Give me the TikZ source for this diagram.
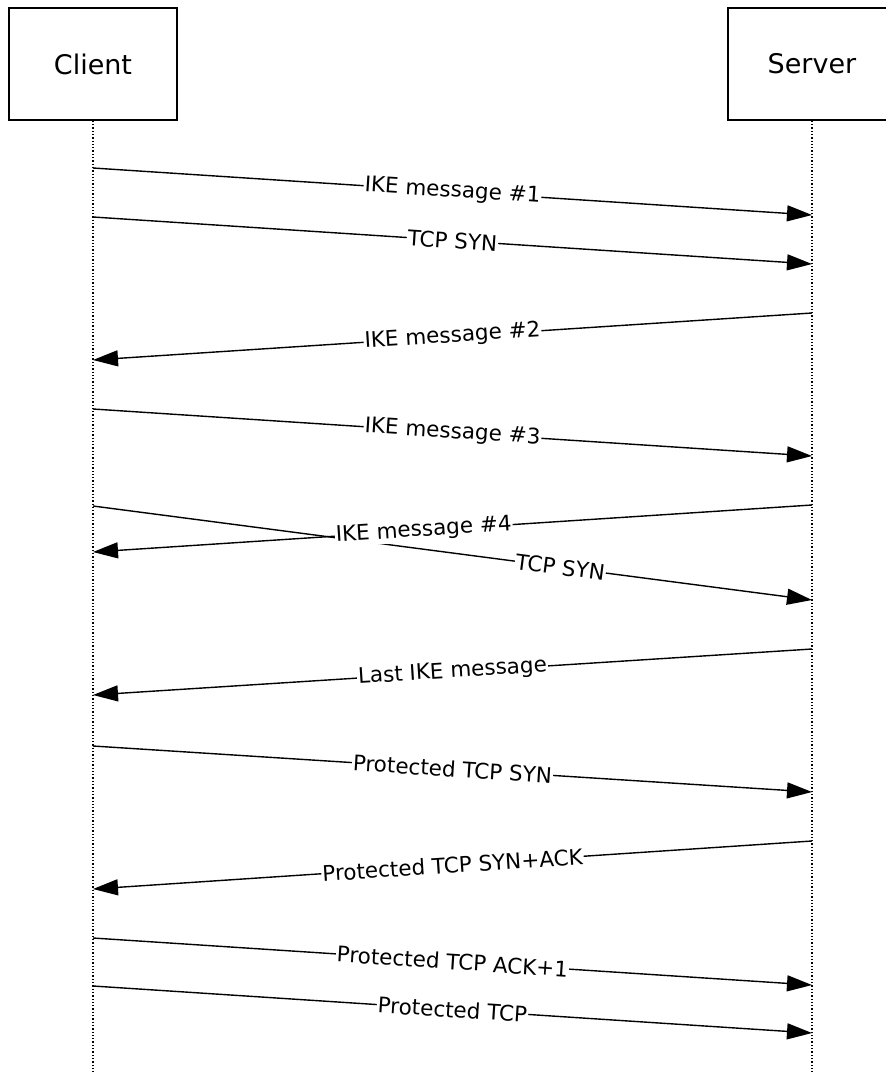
\documentclass[tikz,border=0pt]{standalone}
\usepackage{fontspec}
\setmainfont{DejaVu Sans}
\usetikzlibrary{arrows.meta}

\begin{document}
\begin{tikzpicture}[x=1pt,y=-1pt,
  actor/.style={draw,line width=1.4pt,minimum width=168pt,minimum height=112pt,
    font=\fontsize{27}{32}\selectfont},
  msg/.style={-{Triangle[length=25pt,width=16pt]},line width=1.4pt},
  lbl/.style={sloped,fill=white,inner xsep=1pt,inner ysep=1pt,
    font=\fontsize{21.5}{26}\selectfont}]
  \useasboundingbox (0,0) rectangle (886,1074);
  \node[actor] (client) at (93,64) {Client};
  \node[actor] (server) at (812,64) {Server};
  \coordinate (cEnd) at (93,1074);
  \coordinate (sEnd) at (812,1074);
  \draw[dotted,line width=1.3pt] (client.south) -- (cEnd);
  \draw[dotted,line width=1.3pt] (server.south) -- (sEnd);
  % client to server
  \foreach \n/\ya/\yb/\p/\txt in {1/168/215/.5/IKE message \#1,
      2/217/264/.5/TCP SYN, 4/409/456/.5/IKE message \#3,
      6/506/600/.65/TCP SYN, 8/746/792/.5/Protected TCP SYN,
      10/938/985/.5/Protected TCP ACK+1, 11/986/1033/.5/Protected TCP}{
    \coordinate (c\n) at (93,\ya);
    \coordinate (s\n) at (812,\yb);
    \draw[msg] (c\n) -- node[lbl,pos=\p] {\txt} (s\n);
  }
  % server to client
  \foreach \n/\ya/\yb/\p/\txt in {3/313/360/.5/IKE message \#2,
      5/505/552/.54/IKE message \#4, 7/649/695/.5/Last IKE message,
      9/841/889/.5/Protected TCP SYN+ACK}{
    \coordinate (s\n) at (812,\ya);
    \coordinate (c\n) at (93,\yb);
    \draw[msg] (s\n) -- node[lbl,pos=\p] {\txt} (c\n);
  }
\end{tikzpicture}
\end{document}
